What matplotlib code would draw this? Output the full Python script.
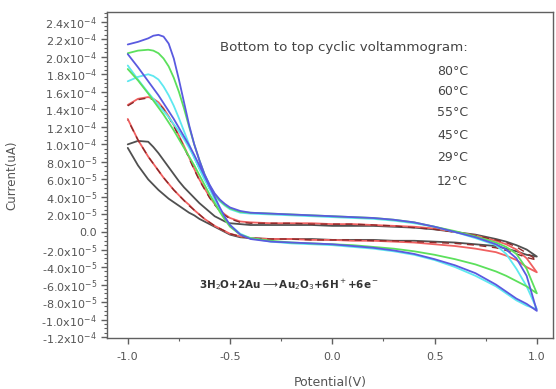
import matplotlib
matplotlib.use("Agg")
import matplotlib.pyplot as plt
from matplotlib.ticker import FixedLocator, MultipleLocator

plt.rcParams['font.family'] = ['DejaVu Sans']
plt.rcParams['mathtext.fontset'] = 'dejavusans'

# ---- data (current in units of 1e-4) ----
potential_fwd = [-1.0, -0.95, -0.9, -0.875, -0.85, -0.825, -0.8, -0.775, -0.75, -0.725, -0.7,
                 -0.675, -0.65, -0.625, -0.6, -0.575, -0.55, -0.525, -0.5, -0.45, -0.4,
                 -0.3, -0.2, -0.1, 0.0, 0.1, 0.2, 0.3, 0.4, 0.5, 0.6, 0.7, 0.8, 0.85, 0.9, 0.95, 1.0]
potential_rev = potential_fwd[::-1]

temperatures = ['80°C', '60°C', '55°C', '45°C', '29°C', '12°C']

blue_fwd = [2.14, 2.17, 2.21, 2.24, 2.25, 2.23, 2.15, 1.98, 1.74, 1.48, 1.22,
            1.00, 0.82, 0.66, 0.54, 0.44, 0.37, 0.32, 0.28, 0.24, 0.22,
            0.21, 0.20, 0.19, 0.18, 0.17, 0.16, 0.14, 0.11, 0.06, 0.00, -0.06, -0.14, -0.20, -0.30, -0.50, -0.90]
blue_rev = [-0.90, -0.82, -0.76, -0.68, -0.60, -0.47, -0.38, -0.31, -0.25, -0.21, -0.18, -0.16,
            -0.14, -0.13, -0.12, -0.11, -0.08, -0.03, 0.08, 0.17, 0.28, 0.40, 0.52, 0.64, 0.76,
            0.88, 0.99, 1.09, 1.19, 1.29, 1.38, 1.47, 1.56, 1.64, 1.72, 1.88, 2.03]

green_fwd = [2.04, 2.07, 2.08, 2.07, 2.04, 1.98, 1.89, 1.76, 1.60, 1.41, 1.20,
             1.00, 0.82, 0.66, 0.53, 0.43, 0.36, 0.31, 0.27, 0.23, 0.22,
             0.21, 0.20, 0.19, 0.18, 0.17, 0.16, 0.14, 0.11, 0.06, 0.01, -0.05, -0.12, -0.17, -0.25, -0.42, -0.70]
green_rev = [-0.70, -0.62, -0.56, -0.50, -0.45, -0.37, -0.31, -0.26, -0.22, -0.19, -0.17, -0.15,
             -0.14, -0.13, -0.12, -0.10, -0.07, -0.03, 0.06, 0.14, 0.23, 0.33, 0.43, 0.54, 0.65,
             0.76, 0.86, 0.96, 1.06, 1.16, 1.25, 1.34, 1.42, 1.50, 1.58, 1.73, 1.86]

cyan_fwd = [1.72, 1.77, 1.80, 1.78, 1.74, 1.66, 1.56, 1.44, 1.30, 1.15, 1.00,
            0.85, 0.72, 0.60, 0.50, 0.41, 0.35, 0.30, 0.26, 0.22, 0.21,
            0.20, 0.19, 0.18, 0.17, 0.16, 0.15, 0.13, 0.10, 0.06, 0.00, -0.07, -0.15, -0.25, -0.42, -0.62, -0.88]
cyan_rev = [-0.88, -0.84, -0.78, -0.70, -0.62, -0.50, -0.40, -0.32, -0.26, -0.22, -0.19, -0.17,
            -0.15, -0.14, -0.13, -0.11, -0.07, -0.02, 0.08, 0.16, 0.26, 0.37, 0.49, 0.61, 0.73,
            0.85, 0.96, 1.06, 1.15, 1.23, 1.31, 1.38, 1.45, 1.52, 1.59, 1.74, 1.90]

maroon_fwd = [1.44, 1.51, 1.53, 1.51, 1.47, 1.40, 1.31, 1.21, 1.09, 0.97, 0.84,
              0.71, 0.59, 0.49, 0.39, 0.31, 0.24, 0.19, 0.15, 0.11, 0.10,
              0.10, 0.10, 0.09, 0.09, 0.09, 0.08, 0.07, 0.05, 0.03, 0.00, -0.04, -0.09, -0.12, -0.17, -0.24, -0.32]
maroon_rev = [-0.32, -0.29, -0.25, -0.21, -0.18, -0.15, -0.13, -0.12, -0.11, -0.10, -0.10, -0.09,
              -0.09, -0.09, -0.08, -0.08, -0.07, -0.05, -0.02, 0.01, 0.04, 0.07, 0.11, 0.15, 0.20,
              0.25, 0.30, 0.36, 0.42, 0.48, 0.55, 0.62, 0.70, 0.78, 0.86, 1.05, 1.28]

red_fwd = [1.45, 1.52, 1.54, 1.52, 1.48, 1.41, 1.32, 1.22, 1.10, 0.98, 0.85,
           0.72, 0.60, 0.50, 0.40, 0.32, 0.25, 0.20, 0.16, 0.12, 0.11,
           0.10, 0.10, 0.10, 0.09, 0.09, 0.08, 0.07, 0.06, 0.04, 0.00, -0.04, -0.10, -0.14, -0.20, -0.30, -0.46]
red_rev = [-0.46, -0.40, -0.32, -0.27, -0.23, -0.19, -0.16, -0.14, -0.12, -0.11, -0.10, -0.10,
           -0.09, -0.09, -0.08, -0.08, -0.07, -0.05, -0.02, 0.01, 0.04, 0.07, 0.11, 0.15, 0.20,
           0.25, 0.31, 0.36, 0.42, 0.48, 0.55, 0.62, 0.70, 0.78, 0.86, 1.05, 1.29]

black_fwd = [1.00, 1.04, 1.03, 0.97, 0.90, 0.82, 0.74, 0.66, 0.58, 0.51, 0.45,
             0.39, 0.33, 0.28, 0.23, 0.18, 0.15, 0.12, 0.10, 0.09, 0.08,
             0.08, 0.08, 0.08, 0.07, 0.07, 0.07, 0.06, 0.05, 0.03, 0.00, -0.03, -0.08, -0.11, -0.15, -0.20, -0.28]
black_rev = [-0.28, -0.26, -0.22, -0.19, -0.16, -0.14, -0.12, -0.11, -0.10, -0.10, -0.09, -0.09,
             -0.09, -0.08, -0.08, -0.08, -0.07, -0.06, -0.03, 0.00, 0.03, 0.06, 0.09, 0.12, 0.15,
             0.19, 0.22, 0.26, 0.30, 0.34, 0.38, 0.43, 0.48, 0.54, 0.60, 0.76, 0.96]

y_ticks = [2.4, 2.2, 2.0, 1.8, 1.6, 1.4, 1.2, 1.0, 0.8, 0.6, 0.4, 0.2, 0.0,
           -0.2, -0.4, -0.6, -0.8, -1.0, -1.2]
y_tick_labels = ['2.4x10$^{-4}$', '2.2x10$^{-4}$', '2.0x10$^{-4}$', '1.8x10$^{-4}$', '1.6x10$^{-4}$',
                 '1.4x10$^{-4}$', '1.2x10$^{-4}$', '1.0x10$^{-4}$', '8.0x10$^{-5}$', '6.0x10$^{-5}$',
                 '4.0x10$^{-5}$', '2.0x10$^{-5}$', '0.0', '-2.0x10$^{-5}$', '-4.0x10$^{-5}$',
                 '-6.0x10$^{-5}$', '-8.0x10$^{-5}$', '-1.0x10$^{-4}$', '-1.2x10$^{-4}$']
x_ticks = [-1.0, -0.5, 0.0, 0.5, 1.0]
x_tick_labels = ['-1.0', '-0.5', '0.0', '0.5', '1.0']

# ---- figure ----
fig = plt.figure(figsize=(5.56, 3.89), dpi=100)
ax = fig.add_axes([0.193, 0.131, 0.802, 0.838])

series = [
    (black_fwd, black_rev, '#505050', '-', 1.3),
    (red_fwd, red_rev, '#f06060', '-', 1.3),
    (maroon_fwd, maroon_rev, '#8a2a2a', (0, (5, 4)), 1.0),
    (cyan_fwd, cyan_rev, '#5ee8f0', '-', 1.3),
    (green_fwd, green_rev, '#5ce05c', '-', 1.3),
    (blue_fwd, blue_rev, '#5a5ae0', '-', 1.3),
]
for fwd, rev, col, ls, lw in series:
    ax.plot(potential_fwd + potential_rev, fwd + rev, color=col, lw=lw, ls=ls,
            solid_capstyle='round', solid_joinstyle='round')

ax.set_xlim(-1.1, 1.08)
ax.set_ylim(-1.21, 2.51)

ax.yaxis.set_major_locator(FixedLocator(y_ticks))
ax.set_yticklabels(y_tick_labels)
ax.yaxis.set_minor_locator(MultipleLocator(0.05))
ax.xaxis.set_major_locator(FixedLocator(x_ticks))
ax.set_xticklabels(x_tick_labels)
ax.xaxis.set_minor_locator(MultipleLocator(0.25))

tc = '#555555'
for s in ax.spines.values():
    s.set_color('#606060')
    s.set_linewidth(1.0)
ax.tick_params(axis='both', which='major', direction='out', length=4, width=1.0,
               color='#606060', labelcolor=tc, labelsize=8)
ax.tick_params(axis='both', which='minor', direction='out', length=2, width=0.8, color='#606060')
ax.tick_params(axis='x', pad=6)

ax.set_xlabel('Potential(V)', fontsize=9, color=tc)
ax.xaxis.set_label_coords(0.5, -0.135)
ax.xaxis.label.set_va('center')
ax.set_ylabel('Current(uA)', fontsize=8.5, color=tc)
ax.yaxis.set_label_coords(-0.213, 0.5)
ax.yaxis.label.set_va('center')

ax.text(0.663, 2.11, 'Bottom to top cyclic voltammogram:', ha='right', va='center',
        fontsize=9.6, color='#444444')
t_y = [1.83, 1.60, 1.36, 1.10, 0.85, 0.58]
for t, yy in zip(temperatures, t_y):
    ax.text(0.663, yy, t, ha='right', va='center', fontsize=9, color='#444444')

ax.text(-0.654, -0.594, r'3H$_2$O+2Au$\longrightarrow$Au$_2$O$_3$+6H$^+$+6e$^-$',
        ha='left', va='center', fontsize=7.5, color='#333333', fontweight='bold')

fig.savefig('out.png', dpi=100)
